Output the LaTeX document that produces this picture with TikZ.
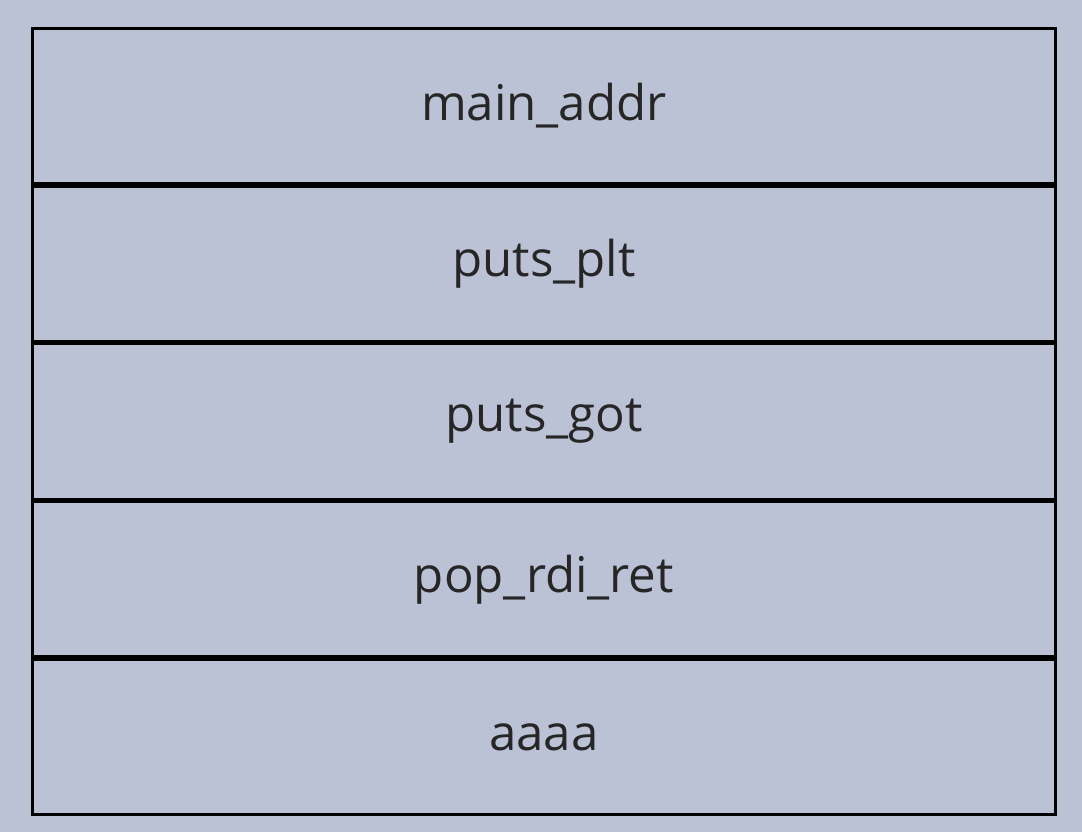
\documentclass[tikz,border=0pt]{standalone}
\usepackage{fontspec}
\setmainfont{Open Sans}
\usepackage{tikz}
\usetikzlibrary{positioning, backgrounds}
\definecolor{slatebg}{HTML}{BCC2D6}
\definecolor{slatetext}{HTML}{262626}

\begin{document}
\begin{tikzpicture}[node distance=0cm,
  slot/.style={rectangle, draw=black, line width=1.6pt, fill=slatebg,
               minimum width=20.46cm, minimum height=3.10cm,
               inner sep=0pt, font=\fontsize{28}{33}\selectfont, text=slatetext}
]
\fill[slatebg] (0,0) rectangle (21.64,-16.64);
\useasboundingbox (0,0) rectangle (21.64,-16.64);

\node[slot, anchor=north west] at (0.62,-0.54) (main_n) {main\_addr};
\node[slot, below=of main_n] (plt_n)  {puts\_plt};
\node[slot, below=of plt_n]  (got_n)  {puts\_got};
\node[slot, below=of got_n]  (rdi_n)  {pop\_rdi\_ret};
\node[slot, below=of rdi_n]  (pad_n)  {aaaa};
\end{tikzpicture}
\end{document}
